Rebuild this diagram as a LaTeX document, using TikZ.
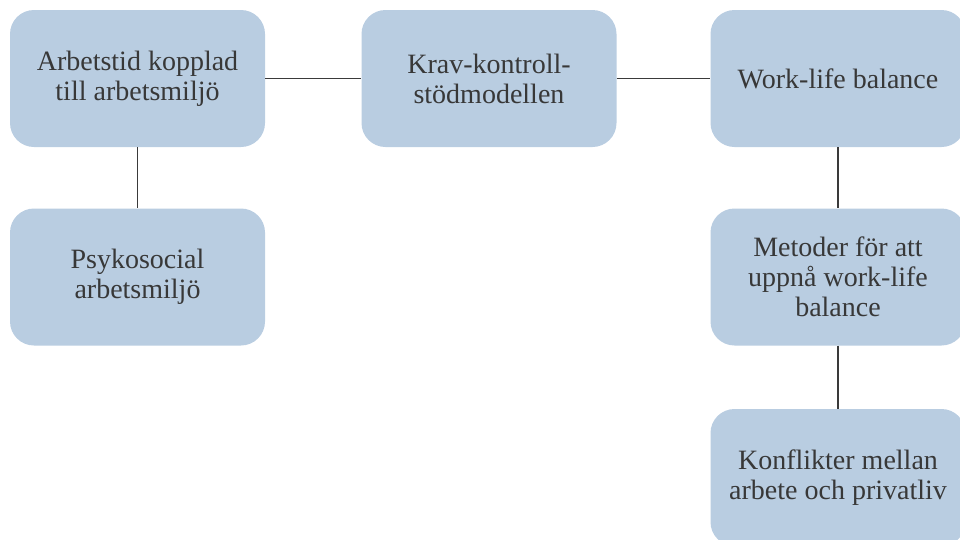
\documentclass[tikz,border=0pt]{standalone}
\usepackage{fontspec}
\setmainfont{Liberation Serif}
\definecolor{boxfill}{HTML}{B9CDE1}
\definecolor{txt}{HTML}{383838}
\definecolor{linec}{HTML}{3A3A3A}
\begin{document}
\begin{tikzpicture}[x=1pt,y=1pt,
  box/.style={fill=boxfill, draw=none, rounded corners=24pt, minimum width=255pt, minimum height=137pt,
    align=center, text=txt, font=\fontsize{28}{30}\selectfont, inner sep=0pt},
  conn/.style={draw=linec, line width=1.6pt}]
\useasboundingbox (0,0) rectangle (960,-539);
\begin{scope}
\clip (0,0) rectangle (960,-539);
\node[box] (a) at (137.5,-78.5) {Arbetstid kopplad\\till arbetsmiljö};
\node[box] (b) at (489,-78.5) {Krav-kontroll-\\stödmodellen};
\node[box] (c) at (838,-78.5) {Work-life balance};
\node[box] (d) at (137.5,-277) {Psykosocial\\arbetsmiljö};
\node[box] (e) at (838,-277) {Metoder för att\\uppnå work-life\\balance};
\node[box] (f) at (838,-477.5) {Konflikter mellan\\arbete och privatliv};
\draw[conn] (a) -- (b);
\draw[conn] (b) -- (c);
\draw[conn] (a) -- (d);
\draw[conn] (c) -- (e);
\draw[conn] (e) -- (f);
\end{scope}
\end{tikzpicture}
\end{document}
